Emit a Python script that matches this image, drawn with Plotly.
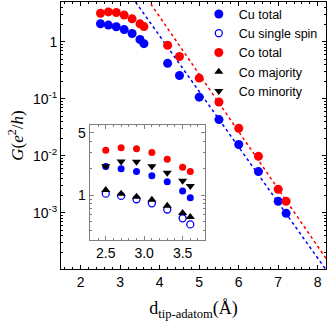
import numpy as np
import plotly.graph_objects as go

# distances (Angstrom)
d_main = [2.5, 2.7, 2.9, 3.1, 3.3, 3.5, 3.6, 4.2, 4.5, 5.0, 5.5, 6.0, 6.5, 7.0, 7.2]
cu_total = [2.08, 1.97, 1.84, 1.64, 1.40, 1.10, 0.93, 0.42, 0.257, 0.107,
            0.0433, 0.0158, 0.0053, 0.0016, 0.00098]
co_total = [3.18, 3.35, 3.27, 2.95, 2.53, 2.07, 1.85, 0.87, 0.553, 0.231,
            0.088, 0.0305, 0.0098, 0.0026, 0.0016]

# inset (short distances)
d_inset = [2.5, 2.7, 2.9, 3.1, 3.3, 3.5, 3.6]
cu_total_in = [2.10, 1.98, 1.84, 1.65, 1.41, 1.11, 0.935]
cu_single = [1.04, 0.98, 0.90, 0.81, 0.69, 0.55, 0.47]
co_total_in = [3.19, 3.40, 3.32, 3.01, 2.53, 2.06, 1.84]
co_major = [1.14, 1.04, 0.96, 0.89, 0.76, 0.63, 0.57]
co_minor = [2.11, 2.38, 2.37, 2.11, 1.78, 1.45, 1.27]

# exponential fits (end points)
fit_cu_x = [3.3, 8.3]
fit_cu_y = [6.08, 8.2e-5]
fit_co_x = [3.6, 8.3]
fit_co_y = [6.9, 1.29e-4]

BLUE = "#0000ff"
RED = "#ff0000"
GREY = "#808080"
sans = "Liberation Sans"
serif = "Liberation Serif"

fig = go.Figure()

# fit lines
fig.add_trace(go.Scatter(x=fit_cu_x, y=fit_cu_y, mode="lines", showlegend=False,
                         line=dict(color=BLUE, width=1.5, dash="dot")))
fig.add_trace(go.Scatter(x=fit_co_x, y=fit_co_y, mode="lines", showlegend=False,
                         line=dict(color=RED, width=1.5, dash="dot")))

# main data
fig.add_trace(go.Scatter(x=d_main, y=cu_total, mode="markers", name="Cu total", legendrank=1,
                         marker=dict(color=BLUE, size=9)))
fig.add_trace(go.Scatter(x=d_main, y=co_total, mode="markers", name="Co total", legendrank=3,
                         marker=dict(color=RED, size=9)))

# inset data
fig.add_trace(go.Scatter(x=d_inset, y=co_total_in, mode="markers", xaxis="x2", yaxis="y2",
                         showlegend=False, marker=dict(color=RED, size=7)))
fig.add_trace(go.Scatter(x=d_inset, y=cu_total_in, mode="markers", xaxis="x2", yaxis="y2",
                         showlegend=False, marker=dict(color=BLUE, size=7)))
fig.add_trace(go.Scatter(x=d_inset, y=cu_single, mode="markers", xaxis="x2", yaxis="y2",
                         name="Cu single spin", legendrank=2,
                         marker=dict(color="white", size=7, symbol="circle",
                                     line=dict(color=BLUE, width=1.3))))
fig.add_trace(go.Scatter(x=d_inset, y=co_major, mode="markers", xaxis="x2", yaxis="y2",
                         name="Co majority", legendrank=4,
                         marker=dict(color="black", size=8, symbol="triangle-up")))
fig.add_trace(go.Scatter(x=d_inset, y=co_minor, mode="markers", xaxis="x2", yaxis="y2",
                         name="Co minority", legendrank=5,
                         marker=dict(color="black", size=8, symbol="triangle-down")))

def log_minor(lo, hi):
    vals = []
    for e in range(lo, hi + 1):
        for m in range(2, 10):
            vals.append(m * 10.0 ** e)
    return vals

fig.update_layout(
    width=332, height=324,
    margin=dict(l=61, r=6, t=2, b=55, autoexpand=False),
    plot_bgcolor="white", paper_bgcolor="white",
    font=dict(family=sans, size=14, color="black"),
    showlegend=True,
    legend=dict(x=0.52, y=1.01, xanchor="left", yanchor="top",
                bgcolor="rgba(0,0,0,0)", font=dict(size=12.5, family=sans),
                tracegroupgap=0, itemwidth=30),
    xaxis=dict(range=[1.5, 8.21], showline=True, linecolor="black", linewidth=1,
               mirror="allticks", ticks="inside", ticklen=4, tickcolor="black",
               tickvals=[2, 3, 4, 5, 6, 7, 8], showgrid=False, zeroline=False,
               automargin=False,
               minor=dict(dtick=0.2, ticks="inside", ticklen=2, tickcolor="black"),
               title=dict(text="d<sub>tip-adatom</sub>(Å)", standoff=12,
                          font=dict(family=serif, size=18))),
    yaxis=dict(type="log", range=[-3.985, np.log10(5)], showline=True, linecolor="black",
               linewidth=1, mirror="allticks", ticks="inside", ticklen=4, tickcolor="black",
               tickvals=[1e-3, 1e-2, 1e-1, 1],
               ticktext=["10<sup>-3</sup>", "10<sup>-2</sup>", "10<sup>-1</sup>", "1"],
               showgrid=False, zeroline=False, automargin=False,
               minor=dict(tickvals=log_minor(-4, 0), ticks="inside", ticklen=2, tickcolor="black"),
               title=dict(text="<i>G</i>(<i>e</i><sup>2</sup>/<i>h</i>)", standoff=4,
                          font=dict(family=serif, size=17))),
    xaxis2=dict(domain=[0.108, 0.543], anchor="y2", range=[2.29, 3.79], showline=True,
                linecolor=GREY, linewidth=1, mirror="allticks", ticks="inside",
                ticklen=4, tickcolor=GREY, tickvals=[2.5, 3.0, 3.5],
                ticktext=["2.5", "3.0", "3.5"], showgrid=False, zeroline=False,
                tickfont=dict(size=14), automargin=False,
                minor=dict(dtick=0.1, tick0=2.5, ticks="inside", ticklen=2, tickcolor=GREY)),
    yaxis2=dict(domain=[0.109, 0.539], anchor="x2", type="log",
                range=[np.log10(0.315), np.log10(6.1)], showline=True, linecolor=GREY,
                linewidth=1, mirror="allticks", ticks="inside", ticklen=4, tickcolor=GREY,
                tickvals=[1, 5], ticktext=["1", "5"], showgrid=False, zeroline=False,
                tickfont=dict(size=14), automargin=False,
                minor=dict(tickvals=[0.4, 0.5, 0.6, 0.7, 0.8, 0.9, 2, 3, 4, 6], ticks="inside",
                           ticklen=2, tickcolor=GREY)),
)

fig.write_html("out.html", config={"displayModeBar": False},
               post_script="document.body.style.margin='0';")
